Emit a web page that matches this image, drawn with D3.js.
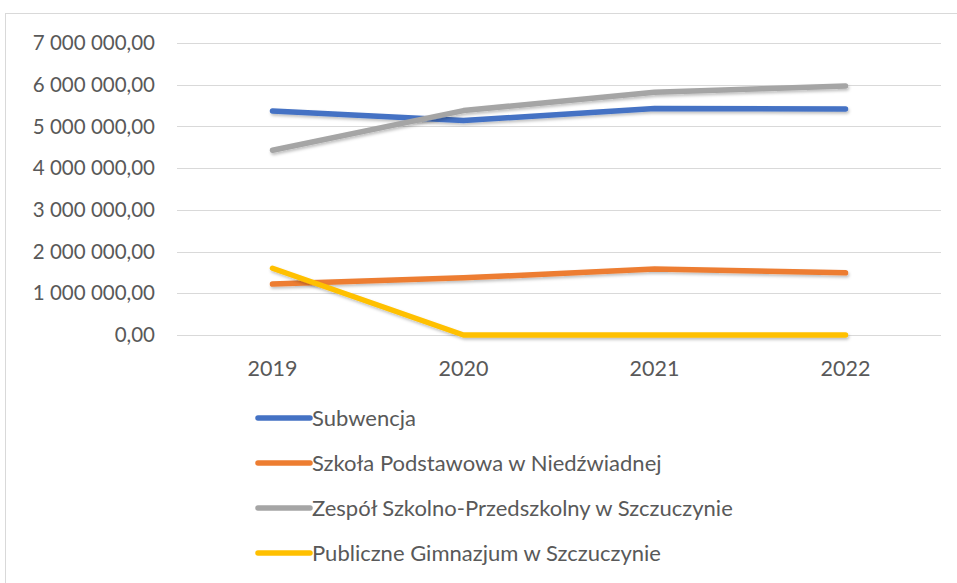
<!DOCTYPE html>
<html>
<head>
<meta charset="utf-8">
<script src="https://cdn.jsdelivr.net/npm/d3@7"></script>
<style>
  body { margin: 0; background: #fff; }
  svg { display: block; font-family: Lato, "Open Sans", sans-serif; }
</style>
</head>
<body>
<div id="chart"></div>
<script>
(function () {

var years = ["2019", "2020", "2021", "2022"];
var seriesNames = [
  "Subwencja",
  "Szkoła Podstawowa w Niedźwiadnej",
  "Zespół Szkolno-Przedszkolny w Szczuczynie",
  "Publiczne Gimnazjum w Szczuczynie"
];
var subwencja = [5370000, 5140000, 5430000, 5420000];
var szkolaPodstawowa = [1220000, 1370000, 1580000, 1490000];
var zespolSzkolny = [4430000, 5380000, 5820000, 5970000];
var gimnazjum = [1600000, 0, 0, 0];
var colors = ["#4472C4", "#ED7D31", "#A5A5A5", "#FFC000"];
var yTicks = [0, 1000000, 2000000, 3000000, 4000000, 5000000, 6000000, 7000000];

var width = 957, height = 583;
var margin = { top: 43, left: 177, right: 16, bottom: 248 };

var svg = d3.select("#chart").append("svg")
  .attr("width", width)
  .attr("height", height);

// chart border
svg.append("rect")
  .attr("x", 5.5).attr("y", 13.5)
  .attr("width", 1000).attr("height", 1000)
  .attr("fill", "none")
  .attr("stroke", "#d9d9d9");

var defs = svg.append("defs");
defs.append("filter").attr("id", "shadow")
  .attr("x", "-10%").attr("y", "-50%").attr("width", "120%").attr("height", "200%")
  .append("feDropShadow")
  .attr("dx", 1).attr("dy", 2).attr("stdDeviation", 1.5)
  .attr("flood-color", "#000").attr("flood-opacity", 0.25);

var x = d3.scaleBand().domain(years)
  .range([margin.left, width - margin.right]);
var y = d3.scaleLinear().domain([0, 7000000])
  .range([height - margin.bottom, margin.top]);

var fmt = function (v) {
  var s = d3.format(",.2f")(v);
  return s.replace(/,/g, " ").replace(".", ",");
};

// gridlines
svg.append("g").selectAll("line")
  .data(yTicks)
  .enter().append("line")
  .attr("x1", margin.left).attr("x2", width - margin.right)
  .attr("y1", function (d) { return Math.round(y(d)) + 0.5; })
  .attr("y2", function (d) { return Math.round(y(d)) + 0.5; })
  .attr("stroke", "#d9d9d9")
  .attr("stroke-width", 1);

// y axis labels
svg.append("g").selectAll("text")
  .data(yTicks)
  .enter().append("text")
  .attr("x", 155)
  .attr("y", function (d) { return y(d); })
  .attr("dy", "0.35em")
  .attr("text-anchor", "end")
  .attr("fill", "#595959")
  .style("font-size", "20.5px")
  .text(fmt);

// x axis labels
svg.append("g").selectAll("text")
  .data(years)
  .enter().append("text")
  .attr("x", function (d) { return x(d) + x.bandwidth() / 2; })
  .attr("y", 368)
  .attr("dy", "0.35em")
  .attr("text-anchor", "middle")
  .attr("fill", "#595959")
  .style("font-size", "21.5px")
  .text(function (d) { return d; });

var allSeries = [subwencja, szkolaPodstawowa, zespolSzkolny, gimnazjum];

var line = d3.line()
  .x(function (d, i) { return x(years[i]) + x.bandwidth() / 2; })
  .y(function (d) { return y(d); });

svg.append("g").selectAll("path")
  .data(allSeries)
  .enter().append("path")
  .attr("d", line)
  .attr("fill", "none")
  .attr("stroke", function (d, i) { return colors[i]; })
  .attr("stroke-width", 5.5)
  .attr("stroke-linecap", "round")
  .attr("stroke-linejoin", "round")
  .attr("filter", "url(#shadow)");

// legend
var legend = svg.append("g").selectAll("g")
  .data(seriesNames)
  .enter().append("g")
  .attr("transform", function (d, i) { return "translate(258," + (418 + i * 45) + ")"; });

legend.append("line")
  .attr("x1", 0).attr("x2", 52)
  .attr("stroke", function (d, i) { return colors[i]; })
  .attr("stroke-width", 5.5)
  .attr("stroke-linecap", "round");

legend.append("text")
  .attr("x", 54)
  .attr("dy", "0.35em")
  .attr("fill", "#595959")
  .style("font-size", "22px")
  .text(function (d) { return d; });

})();
</script>
</body>
</html>
